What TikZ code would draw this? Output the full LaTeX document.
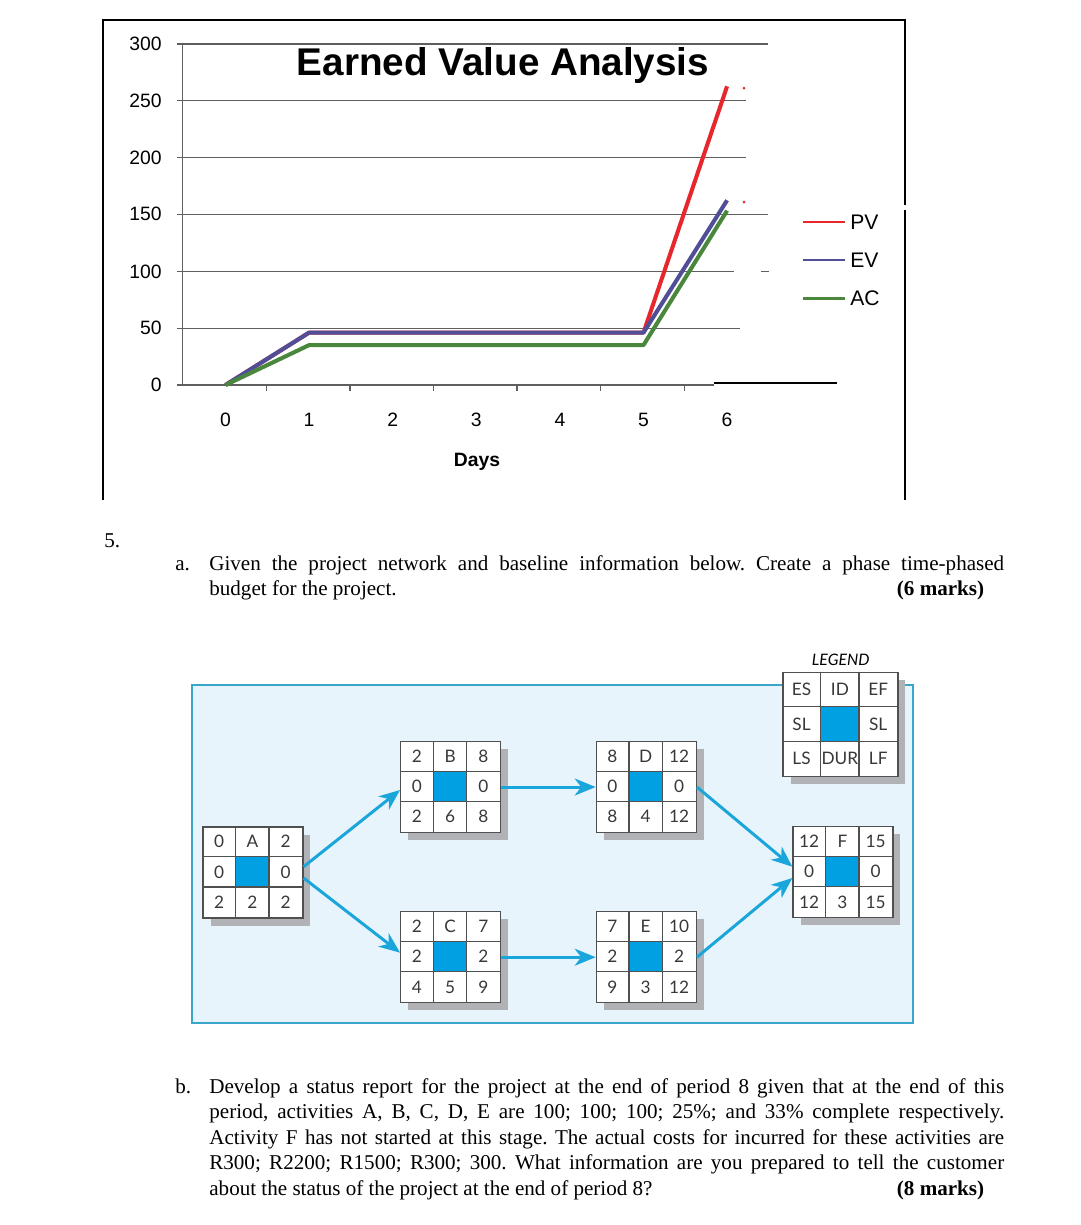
\documentclass[tikz,border=0pt]{standalone}
\usepackage{fontspec}
\setmainfont{Liberation Serif}
\newfontfamily\chartfont{Liberation Sans}
\newfontfamily\netfont{Lato}
\definecolor{pvred}{RGB}{230, 40, 45}
\definecolor{evblue}{RGB}{80, 78, 150}
\definecolor{acgreen}{RGB}{72, 135, 60}
\definecolor{gridgray}{RGB}{95, 95, 95}
\definecolor{netcyan}{RGB}{27, 166, 219}
\definecolor{framecyan}{RGB}{58, 166, 202}
\definecolor{panelblue}{RGB}{232, 244, 251}
\definecolor{idblue}{RGB}{0, 160, 227}
\definecolor{cellgray}{RGB}{80, 80, 80}
\definecolor{shadowgray}{RGB}{176, 178, 182}
\usetikzlibrary{arrows.meta, calc, shadows}
\tikzset{
	gridrule/.style={draw=gridgray, line width=0.7pt},
	series/.style={line width=2.3pt, line join=round},
	ticklabel/.style={font=\chartfont\fontsize{11}{12}\selectfont, inner sep=0pt},
	keylabel/.style={font=\chartfont\fontsize{12}{13}\selectfont, inner sep=0pt, anchor=west},
	actbox/.style={rectangle, draw=cellgray, fill=white, line width=0.7pt, inner sep=0pt, drop shadow={shadow xshift=0.15cm, shadow yshift=-0.15cm, fill=shadowgray, opacity=1}},
	cellrule/.style={draw=cellgray, line width=0.7pt},
	cell/.style={font=\netfont\fontsize{9.8}{10}\selectfont, text=black!78, inner sep=0pt},
	netarrow/.style={-{Stealth[length=4.2mm, width=3.4mm, inset=1.3mm]}, line width=1.7pt, draw=netcyan},
	question/.style={font=\fontsize{12}{14.6}\selectfont, inner sep=0pt, text width=15.9cm, align=justify, anchor=base west},
	label/.style={font=\fontsize{12}{14.6}\selectfont, inner sep=0pt, anchor=base west},
}
\newcommand{\netbox}[5]{%
	\node[actbox, minimum width={3*#3*0.02cm}, minimum height={3*#4*0.02cm}] (#1) at (#2) {};
	\fill[idblue] ($(#1.north west)+(#3,#4)$) rectangle ($(#1.north west)+(2*#3,2*#4)$);
	\draw[cellrule] ($(#1.north west)+(#3,0)$) -- ($(#1.south west)+(#3,0)$)
		($(#1.north west)+(2*#3,0)$) -- ($(#1.south west)+(2*#3,0)$)
		($(#1.north west)+(0,#4)$) -- ($(#1.north east)+(0,#4)$)
		($(#1.north west)+(0,2*#4)$) -- ($(#1.north east)+(0,2*#4)$);
	\foreach \entry [count=\k from 0] in {#5} {
		\pgfmathtruncatemacro{\col}{mod(\k,3)}
		\pgfmathtruncatemacro{\row}{int(\k/3)}
		\node[cell] (#1-\k) at ($(#1.north west)+({(\col+0.5)*#3},{(\row+0.5)*#4})$) {\entry};
	}
}

\begin{document}
\frenchspacing
\begin{tikzpicture}[x=0.02cm, y=-0.02cm]
	\useasboundingbox[fill=white] (0,0) rectangle (1080,1225);

	% chart
	\draw[line width=0.7pt] (103,500) -- (103,20) -- (905,20) -- (905,205);
	\draw[line width=0.7pt] (905,210) -- (905,500);
	\draw[gridrule] (176.7,44) -- (768,44);
	\draw[gridrule] (176.7,100.7) -- (746,100.7);
	\draw[gridrule] (176.7,157.7) -- (746,157.7);
	\draw[gridrule] (176.7,214.3) -- (768,214.3);
	\draw[gridrule] (176.7,271.7) -- (734,271.7) (761,271.7) -- (769,271.7);
	\draw[gridrule] (176.7,328.3) -- (740,328.3);
	\draw[gridrule] (176.7,385) -- (714,385);
	\draw[line width=0.8pt] (714,383) -- (837,383);
	\draw[gridrule] (182.7,44) -- (182.7,385);
	\foreach \k in {1,...,6}
		\draw[gridrule] (182.7+83.6*\k,385) -- (182.7+83.6*\k,391);
	\foreach \v/\yy in {300/44, 250/100.7, 200/157.7, 150/214.3, 100/271.7, 50/328.3, 0/385}
		\node[ticklabel, anchor=east] (ylab\v) at (162,\yy) {\v};
	\foreach \k in {0,...,6}
		\node[ticklabel] (xlab\k) at (225.5+83.6*\k,420) {\k};
	\node[font=\chartfont\bfseries\fontsize{22}{24}\selectfont, inner sep=0pt] (title) at (503,65) {Earned Value Analysis};
	\node[font=\chartfont\bfseries\fontsize{11}{12}\selectfont, inner sep=0pt] (days) at (477,462) {Days};
	\draw[series, pvred] (225.5,385) -- (309.1,332.6) -- (643.5,332.6) -- (727.1,86.3);
	\draw[series, evblue] (225.5,385) -- (309.1,332.6) -- (643.5,332.6) -- (727.1,200.3);
	\draw[series, acgreen] (225.5,385) -- (309.1,345.1) -- (643.5,345.1) -- (727.1,210.6);
	\fill[pvred] (744,88) circle (1.5) (744,202) circle (1.5);
	\draw[series, pvred, line width=1.6pt] (803,222) -- (845,222);
	\draw[series, evblue, line width=1.6pt] (803,260) -- (845,260);
	\draw[series, acgreen, line width=1.6pt] (803,298.3) -- (845,298.3);
	\node[keylabel] (pvkey) at (850,222) {PV};
	\node[keylabel] (evkey) at (850,260) {EV};
	\node[keylabel] (ackey) at (850,298.3) {AC};

	% question text
	\node[label] (qnum) at (104,547) {5.};
	\node[label] (qa) at (175,570) {a.};
	\node[question] (qatext) at (209,570) {Given the project network and baseline information below. Create a phase time-phased\linebreak budget for the project.\hfill\textbf{(6 marks)}\hspace*{0.4cm}\mbox{}};
	\node[label] (qb) at (175,1093) {b.};
	\node[question] (qbtext) at (209,1093) {Develop a status report for the project at the end of period 8 given that at the end of this\linebreak period, activities A, B, C, D, E are 100; 100; 100; 25\%; and 33\% complete respectively.\linebreak Activity F has not started at this stage. The actual costs for incurred for these activities are\linebreak R300; R2200; R1500; R300; 300. What information are you prepared to tell the customer\linebreak about the status of the project at the end of period 8?\hfill\textbf{(8 marks)}\hspace*{0.4cm}\mbox{}};

	% network
	\draw[fill=panelblue, draw=framecyan, line width=1.2pt] (191.7,685) rectangle (913,1023);
	\node[font=\netfont\itshape\fontsize{9}{10}\selectfont, inner sep=0pt] (legendtitle) at (840.7,660) {LEGEND};
	\netbox{key}{840.5,724.5}{38.3}{34.8}{ES,ID,EF,SL,,SL,LS,DUR,LF}
	\netbox{actA}{253,872.5}{33.33}{30.33}{0,A,2,0,,0,2,2,2}
	\netbox{actB}{450.7,787}{33.33}{30.33}{2,B,8,0,,0,2,6,8}
	\netbox{actC}{450.7,957.2}{33.33}{30.33}{2,C,7,2,,2,4,5,9}
	\netbox{actD}{646.3,787}{33.33}{30.33}{8,D,12,0,,0,8,4,12}
	\netbox{actE}{646.3,957.2}{33.33}{30.33}{7,E,10,2,,2,9,3,12}
	\netbox{actF}{843,872.2}{33.33}{30.33}{12,F,15,0,,0,12,3,15}
	\draw[netarrow] ([yshift=0.116cm]actA.east) -- ([yshift=-0.06cm]actB.west);
	\draw[netarrow] ([yshift=-0.11cm]actA.east) -- ([yshift=0.09cm]actC.west);
	\draw[netarrow] (actB.east) -- (actD.west);
	\draw[netarrow] (actC.east) -- (actE.west);
	\draw[netarrow] (actD.east) -- ([yshift=0.11cm]actF.west);
	\draw[netarrow] (actE.east) -- ([yshift=-0.116cm]actF.west);
\end{tikzpicture}
\end{document}
